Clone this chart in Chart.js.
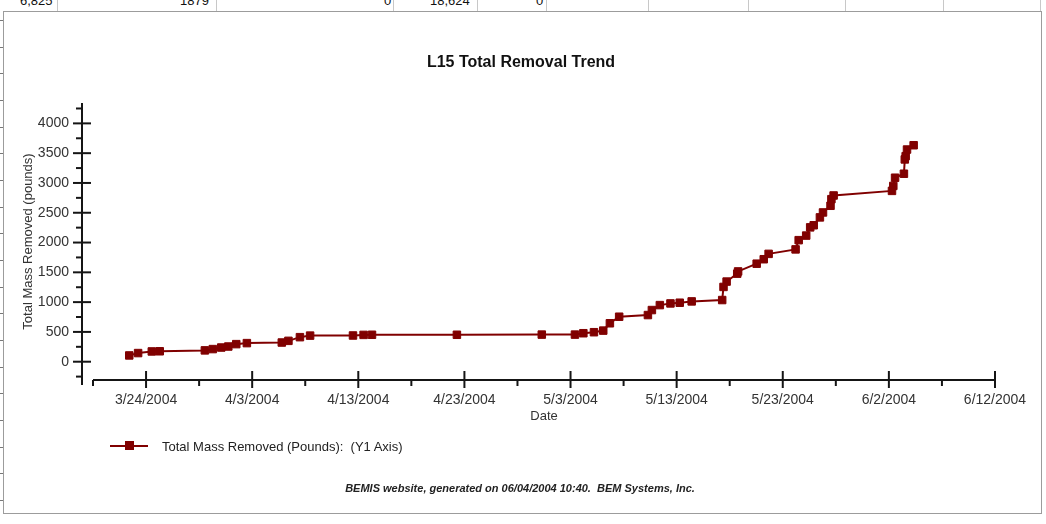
<!DOCTYPE html>
<html>
<head>
<meta charset="utf-8">
<script src="https://cdn.jsdelivr.net/npm/chart.js@4.4.1/dist/chart.umd.min.js"></script>
<style>
  html, body { margin: 0; padding: 0; background: #fff; }
  #page { position: relative; width: 1046px; height: 524px; overflow: hidden; background: #fff;
          font-family: "Liberation Sans", Arial, sans-serif; }
  #strip { position: absolute; left: 0; top: 0; width: 1046px; height: 11px; overflow: hidden; }
  #strip span { position: absolute; top: -7px; font-size: 13px; color: #111; white-space: pre; }
  #strip .gl { position: absolute; top: 0; width: 1px; height: 11px; background: #c8c8c8; }
  #panel { position: absolute; left: 3px; top: 11px; width: 1037px; height: 501px; border: 1px solid #9c9c9c; }
  #rows { position: absolute; left: 0; top: 11px; width: 3px; height: 502px;
          background: repeating-linear-gradient(to bottom, transparent 0, transparent 9px, #777 9px, #777 10px, transparent 10px, transparent 26.67px); }
  #chartWrap { position: absolute; left: 0; top: 0; width: 1046px; height: 524px; }
  #legend { position: absolute; left: 110px; top: 437px; height: 18px; display: flex; align-items: center;
            font-size: 13px; color: #222; }
  #legend .sw { position: relative; width: 38px; height: 18px; margin-right: 14px; }
  #legend .sw .ln { position: absolute; left: 0; top: 8px; width: 38px; height: 2px; background: #800000; }
  #legend .sw .sq { position: absolute; left: 15px; top: 4px; width: 9px; height: 9px; background: #800000; }
  #footer { position: absolute; left: 0; width: 1040px; top: 482px; text-align: center;
            font-size: 11px; font-style: italic; font-weight: bold; color: #222; }
</style>
</head>
<body>
<div id="page">
  <div id="strip">
    <span style="left:20px">6,825</span><div class="gl" style="left:57px"></div>
    <span style="left:180px">1879</span><div class="gl" style="left:216px"></div>
    <span style="left:384px">0</span><div class="gl" style="left:393px"></div>
    <span style="left:430px">18,624</span><div class="gl" style="left:477px"></div>
    <span style="left:536px">0</span><div class="gl" style="left:546px"></div>
    <div class="gl" style="left:648px"></div>
    <div class="gl" style="left:748px"></div>
    <div class="gl" style="left:845px"></div>
    <div class="gl" style="left:943px"></div>
    <div class="gl" style="left:1040px"></div>
  </div>
  <div id="rows"></div>
  <div id="panel"></div>
  <div id="chartWrap"><canvas id="chart"></canvas></div>
  <div id="legend"><div class="sw"><div class="ln"></div><div class="sq"></div></div><span>Total Mass Removed (Pounds):&nbsp;&nbsp;(Y1 Axis)</span></div>
  <div id="footer">BEMIS website, generated on 06/04/2004 10:40.&nbsp;&nbsp;BEM Systems, Inc.</div>
</div>
<script>
// ---- data ----
const CHART_TITLE = 'L15 Total Removal Trend';
const X_TITLE = 'Date';
const Y_TITLE = 'Total Mass Removed (pounds)';
const AXIS_START = '3/19/2004';
const X_TICK_LABELS = ['3/24/2004', '4/3/2004', '4/13/2004', '4/23/2004', '5/3/2004',
                       '5/13/2004', '5/23/2004', '6/2/2004', '6/12/2004'];
const Y_TICK_LABELS = [0, 500, 1000, 1500, 2000, 2500, 3000, 3500, 4000];
const Y_RANGE = [-307, 4342];
const SERIES_NAME = 'Total Mass Removed (Pounds):  (Y1 Axis)';
const DATES = [
  '3/22/2004 10:00', '3/23/2004 06:00', '3/24/2004 13:00', '3/25/2004 07:00',
  '3/29/2004 13:00', '3/30/2004 07:00', '3/31/2004 02:00', '3/31/2004 18:00',
  '4/1/2004 12:00', '4/2/2004 12:00', '4/5/2004 19:00', '4/6/2004 10:00',
  '4/7/2004 12:00', '4/8/2004 11:00', '4/12/2004 12:00', '4/13/2004 12:00',
  '4/14/2004 07:00', '4/22/2004 07:00', '4/30/2004 07:00', '5/3/2004 10:00',
  '5/4/2004 05:00', '5/5/2004 05:00', '5/6/2004 02:00', '5/6/2004 17:00',
  '5/7/2004 14:00', '5/10/2004 07:00', '5/10/2004 16:00', '5/11/2004 10:00',
  '5/12/2004 10:00', '5/13/2004 07:00', '5/14/2004 10:00', '5/17/2004 07:00',
  '5/17/2004 10:00', '5/17/2004 17:00', '5/18/2004 17:00', '5/18/2004 19:00',
  '5/20/2004 13:00', '5/21/2004 05:00', '5/21/2004 16:00', '5/24/2004 05:00',
  '5/24/2004 12:00', '5/25/2004 05:00', '5/25/2004 14:00', '5/25/2004 22:00',
  '5/26/2004 12:00', '5/26/2004 19:00', '5/27/2004 12:00', '5/27/2004 14:00',
  '5/27/2004 19:00', '6/2/2004 07:00', '6/2/2004 10:00', '6/2/2004 14:00',
  '6/3/2004 10:00', '6/3/2004 12:00', '6/3/2004 14:00', '6/3/2004 17:00',
  '6/4/2004 08:00'
];
const MASS = [
  105, 145, 172, 175,
  190, 212, 238, 255,
  295, 312, 322, 350,
  412, 438, 440, 450,
  452, 452, 455, 455,
  478, 495, 522, 645,
  755, 783, 867, 950,
  978, 990, 1012, 1035,
  1255, 1345, 1478, 1515,
  1645, 1720, 1810, 1885,
  2040, 2117, 2255, 2290,
  2422, 2505, 2617, 2728,
  2790, 2867, 2950, 3088,
  3155, 3395, 3450, 3561,
  3633
];

// ---- helpers ----
function dayOffset(s) {
  const parts = s.split(' ');
  const [m, d, yr] = parts[0].split('/').map(Number);
  let h = 0, mi = 0;
  if (parts[1]) [h, mi] = parts[1].split(':').map(Number);
  const [bm, bd, by] = AXIS_START.split('/').map(Number);
  return (Date.UTC(yr, m - 1, d, h, mi) - Date.UTC(by, bm - 1, bd)) / 86400000;
}
const X_TICK_VALUES = X_TICK_LABELS.map(dayOffset);
const points = DATES.map((d, i) => ({ x: dayOffset(d), y: MASS[i] }));

const AXIS_COLOR = '#151515';
const FONT = '"Liberation Sans", Arial, sans-serif';

const plainAxes = {
  id: 'plainAxes',
  beforeDatasetsDraw(chart) {
    const { ctx, chartArea: a, scales: { x, y } } = chart;
    const seg = (x1, y1, x2, y2) => { ctx.beginPath(); ctx.moveTo(x1, y1); ctx.lineTo(x2, y2); ctx.stroke(); };
    ctx.save();
    ctx.strokeStyle = AXIS_COLOR;
    ctx.lineWidth = 2;
    const ax = a.left - 11;
    seg(ax, a.top, ax, a.bottom + 5);
    const yStep = Y_TICK_LABELS[1] - Y_TICK_LABELS[0];
    y.ticks.forEach((t, i) => {
      const p = y.getPixelForValue(t.value);
      seg(ax - 9, p, ax + 9, p);
      const m = y.getPixelForValue(t.value + yStep / 2);
      if (m >= a.top) seg(ax - 6, m, ax, m);
      if (i === 0) {
        const m0 = y.getPixelForValue(t.value - yStep / 2);
        if (m0 <= a.bottom) seg(ax - 6, m0, ax, m0);
      }
    });
    seg(a.left, a.bottom, a.right, a.bottom);
    const xStep = X_TICK_VALUES[1] - X_TICK_VALUES[0];
    x.ticks.forEach((t) => {
      const p = x.getPixelForValue(t.value);
      seg(p, a.bottom - 9, p, a.bottom + 8);
      const m = x.getPixelForValue(t.value - xStep / 2);
      if (m >= a.left - 1) seg(m, a.bottom, m, a.bottom + 6);
    });
    ctx.restore();
  }
};

new Chart(document.getElementById('chart'), {
  type: 'line',
  data: {
    datasets: [{
      label: SERIES_NAME,
      data: points,
      borderColor: '#800000',
      backgroundColor: '#800000',
      borderWidth: 2,
      pointStyle: 'rect',
      pointRadius: 5.3,
      pointBorderWidth: 1,
      pointBackgroundColor: '#800000',
      pointBorderColor: '#800000',
      tension: 0,
      fill: false,
      clip: false
    }]
  },
  options: {
    responsive: true,
    maintainAspectRatio: false,
    animation: false,
    layout: { padding: { top: 0, left: 0, right: 4, bottom: 99 } },
    plugins: {
      legend: { display: false },
      tooltip: { enabled: false },
      title: {
        display: true,
        text: CHART_TITLE,
        color: '#111',
        font: { family: FONT, size: 16, weight: 'bold' },
        padding: { top: 53, bottom: 30.8 }
      }
    },
    scales: {
      x: {
        type: 'linear',
        min: 0,
        max: X_TICK_VALUES[X_TICK_VALUES.length - 1],
        afterBuildTicks: (s) => { s.ticks = X_TICK_VALUES.map(v => ({ value: v })); },
        afterFit: (s) => { s.height = 45; },
        grid: { display: false, drawTicks: false },
        border: { display: false },
        ticks: {
          autoSkip: false, maxRotation: 0, padding: 11.6, color: '#333',
          font: { family: FONT, size: 14 },
          callback: (v, i) => X_TICK_LABELS[i]
        },
        title: { display: true, text: X_TITLE, color: '#333', font: { family: FONT, size: 13 }, padding: { top: 0, bottom: 1.2 } }
      },
      y: {
        type: 'linear',
        position: 'left',
        min: Y_RANGE[0],
        max: Y_RANGE[1],
        afterBuildTicks: (s) => { s.ticks = Y_TICK_LABELS.map(v => ({ value: v })); },
        afterFit: (s) => { s.width = 93; },
        grid: { display: false, drawTicks: false },
        border: { display: false },
        ticks: {
          autoSkip: false, padding: 24, color: '#333',
          font: { family: FONT, size: 14 },
          callback: (v) => String(v)
        },
        title: { display: true, text: Y_TITLE, color: '#333', font: { family: FONT, size: 13 }, padding: { top: 20.2, bottom: 0 } }
      },
      // empty right-hand margin box so the title centres on the panel as in the original
      yRightMargin: {
        type: 'linear',
        position: 'right',
        min: Y_RANGE[0],
        max: Y_RANGE[1],
        afterFit: (s) => { s.width = 47; },
        grid: { display: false, drawTicks: false },
        border: { display: false },
        ticks: { display: false }
      }
    }
  },
  plugins: [plainAxes]
});
</script>
</body>
</html>
